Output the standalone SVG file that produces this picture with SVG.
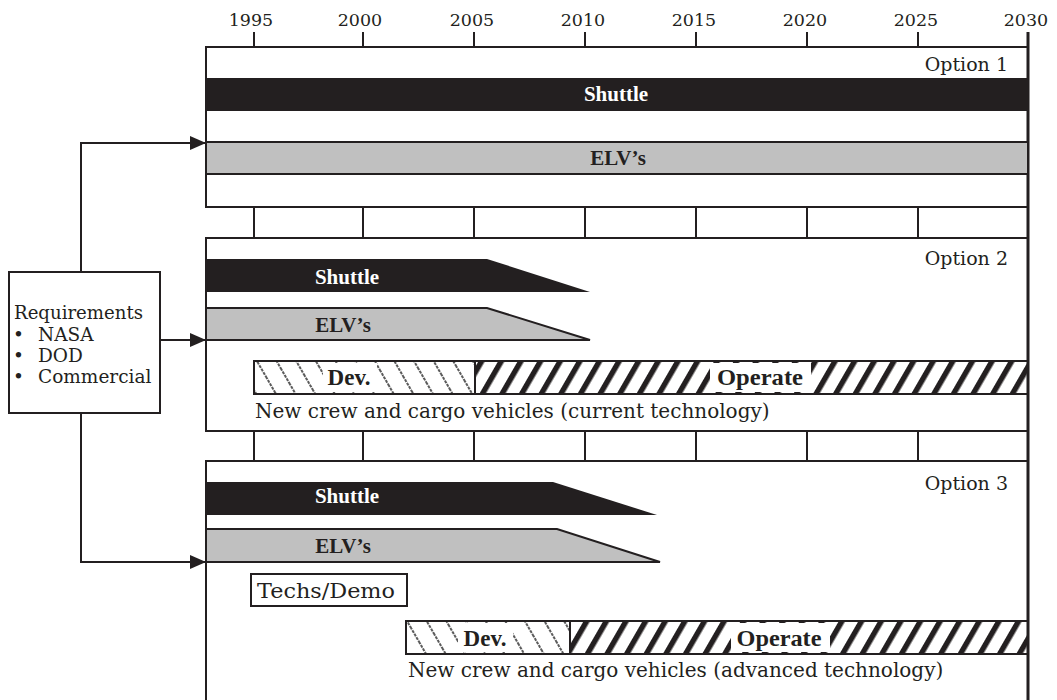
<svg xmlns="http://www.w3.org/2000/svg" width="1057" height="700" viewBox="0 0 1057 700">
<style>
.ln{stroke:#231f20;stroke-width:2;fill:none}
.edge{stroke:#231f20;stroke-width:3;fill:none}
.yr{font-family:"DejaVu Serif",serif;font-size:17.5px;fill:#231f20;text-anchor:middle}
.opt{font-family:"DejaVu Serif",serif;font-size:19px;fill:#231f20;text-anchor:end}
.txt{font-family:"DejaVu Serif",serif;font-size:20px;fill:#231f20}
.req{font-family:"DejaVu Serif",serif;font-size:18.5px;fill:#231f20}
.bw{font-family:"Liberation Serif",serif;font-size:21px;font-weight:bold;fill:#fff;text-anchor:middle}
.bk{font-family:"Liberation Serif",serif;font-size:21px;font-weight:bold;fill:#231f20;text-anchor:middle}
.bb{font-family:"Liberation Serif",serif;font-size:23px;font-weight:bold;fill:#231f20;text-anchor:middle}
.blk{fill:#231f20}
.gry{fill:#c0c0c0;stroke:#231f20;stroke-width:2}
</style>
<defs>
<marker id="arr" markerWidth="16" markerHeight="14" refX="15" refY="7" orient="auto" markerUnits="userSpaceOnUse">
<path d="M0,0 L16,7 L0,14 Z" fill="#231f20"/>
</marker>
<pattern id="dev" patternUnits="userSpaceOnUse" width="17" height="17" patternTransform="rotate(-30)">
<line x1="8" y1="0" x2="8" y2="17" stroke="#333" stroke-width="1.6" stroke-dasharray="3 1"/>
</pattern>
<pattern id="op" patternUnits="userSpaceOnUse" width="17" height="17" patternTransform="rotate(30)">
<rect x="0" y="0" width="5.5" height="17" fill="#231f20"/>
</pattern>
</defs>
<rect width="1057" height="700" fill="#fff"/>

<g id="axis">
<text class="yr" x="251" y="26">1995</text>
<text class="yr" x="360" y="26">2000</text>
<text class="yr" x="472" y="26">2005</text>
<text class="yr" x="583" y="26">2010</text>
<text class="yr" x="694" y="26">2015</text>
<text class="yr" x="805" y="26">2020</text>
<text class="yr" x="916" y="26">2025</text>
<text class="yr" x="1026" y="26">2030</text>
<path class="ln" d="M254,32V47 M363,32V47 M474,32V47 M585,32V47 M696,32V47 M807,32V47 M918,32V47"/>
<path class="ln" d="M254,207V238 M363,207V238 M474,207V238 M585,207V238 M696,207V238 M807,207V238 M918,207V238"/>
<path class="ln" d="M254,431V461 M363,431V461 M474,431V461 M585,431V461 M696,431V461 M807,431V461 M918,431V461"/>
<path class="edge" d="M1028,32V700"/>
</g>

<g id="option1">
<path class="ln" d="M1028,47H206V207H1028"/>
<text class="opt" x="1008" y="71">Option 1</text>
<rect class="blk" x="206" y="78" width="822" height="33"/>
<text class="bw" x="616" y="101">Shuttle</text>
<rect class="gry" x="206" y="142" width="822" height="32"/>
<text class="bk" x="618" y="165">ELV’s</text>
</g>

<g id="option2">
<path class="ln" d="M1028,238H206V431H1028"/>
<text class="opt" x="1008" y="265">Option 2</text>
<polygon class="blk" points="206,259 487,259 590,292 206,292"/>
<text class="bw" x="347" y="284">Shuttle</text>
<polygon class="gry" points="206,308 487,308 590,340 206,340"/>
<text class="bk" x="343" y="332">ELV’s</text>
<rect x="254" y="361" width="221" height="33" fill="url(#dev)"/>
<rect x="323" y="363" width="54" height="29" fill="#fff"/>
<text class="bb" x="349" y="385">Dev.</text>
<rect x="475" y="361" width="553" height="33" fill="url(#op)"/>
<rect x="710" y="363" width="101" height="29" fill="#fff"/>
<text class="bb" x="760" y="385" textLength="86" lengthAdjust="spacingAndGlyphs">Operate</text>
<rect class="ln" x="254" y="361" width="774" height="33"/>
<path class="ln" d="M475,361V394"/>
<text class="txt" x="255" y="418">New crew and cargo vehicles (current technology)</text>
</g>

<g id="option3">
<path class="ln" d="M206,700V461H1028"/>
<text class="opt" x="1008" y="490">Option 3</text>
<polygon class="blk" points="206,482 553,482 657,515 206,515"/>
<text class="bw" x="347" y="503">Shuttle</text>
<polygon class="gry" points="206,529 557,529 660,562 206,562"/>
<text class="bk" x="343" y="553">ELV’s</text>
<g id="techs">
<rect class="ln" x="251" y="574" width="156" height="32"/>
<text class="txt" x="257" y="598" textLength="138" lengthAdjust="spacingAndGlyphs">Techs/Demo</text>
</g>
<rect x="406" y="621" width="164" height="33" fill="url(#dev)"/>
<rect x="458" y="623" width="55" height="29" fill="#fff"/>
<text class="bb" x="485" y="646">Dev.</text>
<rect x="570" y="621" width="458" height="33" fill="url(#op)"/>
<rect x="731" y="623" width="99" height="29" fill="#fff"/>
<text class="bb" x="779" y="646" textLength="85" lengthAdjust="spacingAndGlyphs">Operate</text>
<rect class="ln" x="406" y="621" width="622" height="33"/>
<path class="ln" d="M570,621V654"/>
<text class="txt" x="408" y="677">New crew and cargo vehicles (advanced technology)</text>
</g>

<g id="requirements">
<rect class="ln" x="9" y="272" width="151" height="141"/>
<text class="req" x="14" y="319" textLength="129" lengthAdjust="spacingAndGlyphs">Requirements</text>
<text class="req" x="13" y="341">•<tspan x="38">NASA</tspan></text>
<text class="req" x="13" y="362">•<tspan x="38">DOD</tspan></text>
<text class="req" x="13" y="383">•<tspan x="38">Commercial</tspan></text>
</g>

<g id="connectors">
<path class="ln" d="M81,272V143H205" marker-end="url(#arr)"/>
<path class="ln" d="M160,340H205" marker-end="url(#arr)"/>
<path class="ln" d="M81,413V562H205" marker-end="url(#arr)"/>
</g>
</svg>
